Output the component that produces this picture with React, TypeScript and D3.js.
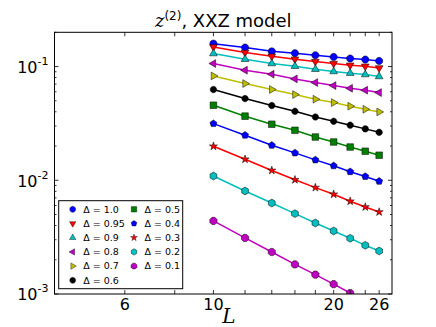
import React, { useRef, useEffect, useCallback } from 'react';
import * as d3 from 'd3';

const sizes = [10, 12, 14, 16, 18, 20, 22, 24, 26];
const deltas = ['1.0', '0.95', '0.9', '0.8', '0.7', '0.6', '0.5', '0.4', '0.3', '0.2', '0.1'];
const z_10 = [0.159, 0.147, 0.136, 0.131, 0.1257, 0.1214, 0.1176, 0.1152, 0.112];
const z_095 = [0.1487, 0.1328, 0.1232, 0.1159, 0.1106, 0.1063, 0.1027, 0.1006, 0.0972];
const z_09 = [0.13, 0.1159, 0.1063, 0.1006, 0.0947, 0.0904, 0.0874, 0.085, 0.0817];
const z_08 = [0.1063, 0.0928, 0.0856, 0.0778, 0.0723, 0.068, 0.0644, 0.0619, 0.059];
const z_07 = [0.0827, 0.0709, 0.0628, 0.0567, 0.0516, 0.0482, 0.0448, 0.0421, 0.0399];
const z_06 = [0.0628, 0.0523, 0.0454, 0.0404, 0.036, 0.033, 0.0305, 0.0283, 0.0264];
const z_05 = [0.0457, 0.0366, 0.0311, 0.0275, 0.024, 0.0217, 0.0196, 0.018, 0.0166];
const z_04 = [0.0315, 0.0249, 0.0203, 0.0174, 0.0151, 0.0134, 0.0119, 0.0108, 0.0098];
const z_03 = [0.0199, 0.0153, 0.0122, 0.0101, 0.00862, 0.00753, 0.00654, 0.00582, 0.00526];
const z_02 = [0.0109, 0.00805, 0.00631, 0.00509, 0.00421, 0.00358, 0.00309, 0.00268, 0.00239];
const z_01 = [0.00439, 0.00311, 0.00234, 0.00182, 0.00148, 0.00122, 0.00102, 0.00086, 0.00073];
const xTicks = [6, 8, 10, 12, 14, 16, 18, 20, 22, 24, 26];
const xTickLabels = [6, 10, 20, 26];
const yMajor = [-1, -2, -3];

const allSeries = [z_10, z_095, z_09, z_08, z_07, z_06, z_05, z_04, z_03, z_02, z_01];
const colors = ['#0000ff', '#ff0000', '#00bfbf', '#bf00bf', '#bfbf00', '#000000', '#008000', '#0000ff', '#ff0000', '#00bfbf', '#bf00bf'];
const markers = ['circle', 'tdown', 'tup', 'tleft', 'tright', 'circle', 'square', 'pentagon', 'star', 'hexagon', 'octagon'];

// regular polygon path centred on 0,0
const polygon = (n, r, rot = 0) => {
  const pts = d3.range(n).map(i => {
    const a = rot + (i * 2 * Math.PI) / n;
    return [r * Math.sin(a), -r * Math.cos(a)];
  });
  return 'M' + pts.map(p => p.join(',')).join('L') + 'Z';
};

const markerPath = (kind, s) => {
  switch (kind) {
    case 'tup': return polygon(3, s * 1.15, 0);
    case 'tdown': return polygon(3, s * 1.15, Math.PI);
    case 'tleft': return polygon(3, s * 1.15, -Math.PI / 2);
    case 'tright': return polygon(3, s * 1.15, Math.PI / 2);
    case 'square': return `M${-s * 0.85},${-s * 0.85}h${s * 1.7}v${s * 1.7}h${-s * 1.7}Z`;
    case 'pentagon': return polygon(5, s * 0.95, 0);
    case 'star': return d3.symbol(d3.symbolStar, s * s * 1.6)();
    case 'hexagon': return polygon(6, s, 0);
    case 'octagon': return polygon(8, s, Math.PI / 8);
    default: return polygon(24, s * 0.92, 0);
  }
};

const App = ({ width = 436, height = 327 }) => {
  const svgRef = useRef(null);
  const margin = { left: 54.5, right: 392, top: 32.3, bottom: 294 };

  const createChart = useCallback((div) => {
    const svg = d3.select(div);
    svg.selectAll('*').remove();

    const x = d3.scaleLog().domain([4, 28]).range([margin.left, margin.right]);
    const y = d3.scaleLog().domain([0.001, 0.2]).range([margin.bottom, margin.top]);

    svg.append('clipPath').attr('id', 'plotclip')
      .append('rect')
      .attr('x', margin.left).attr('y', margin.top)
      .attr('width', margin.right - margin.left).attr('height', margin.bottom - margin.top);

    const plot = svg.append('g').attr('clip-path', 'url(#plotclip)');
    const line = d3.line().x((d, i) => x(sizes[i])).y(d => y(d));

    allSeries.forEach((vals, k) => {
      plot.append('path')
        .attr('d', line(vals))
        .attr('fill', 'none')
        .attr('stroke', colors[k])
        .attr('stroke-width', 1.5);
    });
    allSeries.forEach((vals, k) => {
      const sz = markers[k] === 'star' ? 3.6 : (markers[k] === 'circle' && k === 5) ? 3.5 : 3.9;
      plot.selectAll(null)
        .data(vals)
        .enter()
        .append('path')
        .attr('d', markerPath(markers[k], sz))
        .attr('transform', (d, i) => `translate(${x(sizes[i])},${y(d)})`)
        .attr('fill', colors[k])
        .attr('stroke', '#000')
        .attr('stroke-width', 0.5);
    });

    // frame
    svg.append('rect')
      .attr('x', margin.left).attr('y', margin.top)
      .attr('width', margin.right - margin.left).attr('height', margin.bottom - margin.top)
      .attr('fill', 'none').attr('stroke', '#000').attr('stroke-width', 1);

    const ticks = svg.append('g').attr('stroke', '#000').attr('stroke-width', 0.8);
    // x ticks, pointing inward on top and bottom
    xTicks.forEach(t => {
      const px = x(t);
      ticks.append('line').attr('x1', px).attr('x2', px).attr('y1', margin.bottom).attr('y2', margin.bottom - 4);
      ticks.append('line').attr('x1', px).attr('x2', px).attr('y1', margin.top).attr('y2', margin.top + 4);
    });
    // y ticks, major and minor
    const yTickVals = [];
    [-3, -2, -1].forEach(e => {
      d3.range(1, 10).forEach(m => {
        const v = m * Math.pow(10, e);
        if (v <= 0.2) yTickVals.push({ v, major: m === 1 });
      });
    });
    yTickVals.forEach(({ v, major }) => {
      const py = y(v);
      const len = major ? 4 : 2;
      ticks.append('line').attr('x1', margin.left).attr('x2', margin.left + len).attr('y1', py).attr('y2', py);
      ticks.append('line').attr('x1', margin.right).attr('x2', margin.right - len).attr('y1', py).attr('y2', py);
    });

    const font = 'DejaVu Sans, sans-serif';
    xTickLabels.forEach(t => {
      svg.append('text')
        .attr('x', x(t)).attr('y', 310)
        .attr('text-anchor', 'middle')
        .style('font-family', font).style('font-size', '16px')
        .text(t);
    });
    yMajor.forEach(e => {
      const txt = svg.append('text')
        .attr('x', 48.5).attr('y', y(Math.pow(10, e)) + 6.3)
        .attr('text-anchor', 'end')
        .style('font-family', font).style('font-size', '16px');
      txt.append('tspan').text('10');
      txt.append('tspan').attr('dy', -8).style('font-size', '11px').text(`-${-e}`);
    });

    // title
    const title = svg.append('text')
      .attr('x', (margin.left + margin.right) / 2).attr('y', 26.7)
      .attr('text-anchor', 'middle')
      .style('font-family', font).style('font-size', '18px');
    title.append('tspan').style('font-family', 'DejaVu Serif, serif').style('font-style', 'italic').text('z');
    title.append('tspan').attr('dy', -7).style('font-size', '12px').text('(2)');
    title.append('tspan').attr('dy', 7).text(', XXZ model');

    // x label
    svg.append('text')
      .attr('x', 229).attr('y', 322.5)
      .attr('text-anchor', 'middle')
      .style('font-family', 'DejaVu Serif, serif').style('font-style', 'italic').style('font-size', '20px')
      .text('L');

    // legend
    const leg = svg.append('g');
    leg.append('rect')
      .attr('x', 58.7).attr('y', 200.7).attr('width', 124).attr('height', 88)
      .attr('fill', '#fff').attr('stroke', '#000').attr('stroke-width', 1);
    deltas.forEach((d, k) => {
      const col = k < 6 ? 0 : 1;
      const row = k < 6 ? k : k - 6;
      const mx = col === 0 ? 72.7 : 134;
      const my = 209.3 + row * 14.2;
      leg.append('path')
        .attr('d', markerPath(markers[k], markers[k] === 'star' ? 3 : 3.2))
        .attr('transform', `translate(${mx},${my})`)
        .attr('fill', colors[k]).attr('stroke', '#000').attr('stroke-width', 0.4);
      leg.append('text')
        .attr('x', mx + 10.5).attr('y', my + 3.3)
        .style('font-family', font).style('font-size', '9.5px')
        .text(`Δ = ${d}`);
    });
  }, []);

  useEffect(() => {
    if (svgRef.current) {
      createChart(svgRef.current);
    }
  }, [svgRef, createChart]);

  return (
    <svg
      ref={svgRef}
      width={width}
      height={height}
      style={{ position: 'absolute', left: 0, top: 0, background: '#fff' }}
    />
  );
};

export default App;
